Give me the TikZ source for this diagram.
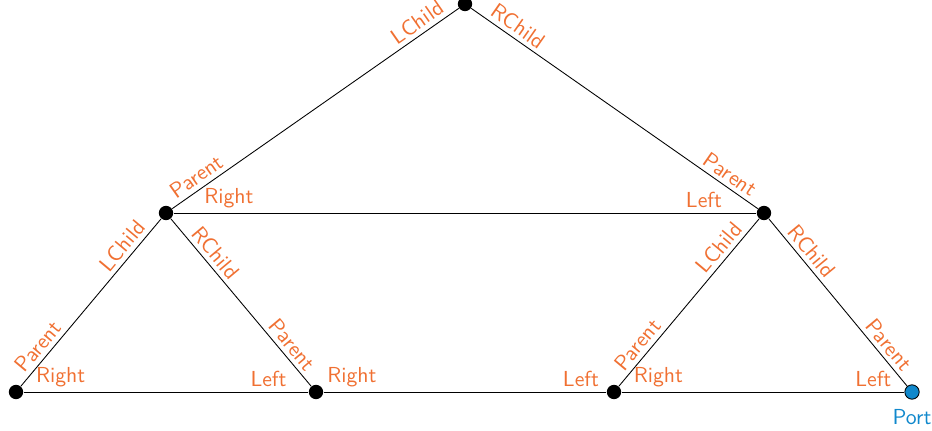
\documentclass[tikz,border=0pt]{standalone}
\usetikzlibrary{positioning}
\definecolor{labelorange}{RGB}{240,112,50}
\definecolor{portblue}{RGB}{16,136,204}
\begin{document}
\begin{tikzpicture}[
  x=0.46pt, y=-0.46pt,
  agent/.style={circle, fill=black, inner sep=0pt, minimum size=6.6pt},
  port/.style={circle, draw=black, fill=portblue, inner sep=0pt, minimum size=6.6pt},
  lbl/.style={sloped, above, inner sep=2pt, text=labelorange},
  font=\sffamily
]
\useasboundingbox (0,0) rectangle (932,431);

\node[agent] (root) at (465,4) {};
\node[agent] (left) at (166,213) {};
\node[agent] (right) at (764,213) {};
\node[agent] (ll) at (16,392) {};
\node[agent] (lr) at (316,392) {};
\node[agent] (rl) at (614,392) {};
\node[port] (free) at (912,392) {};
\node[below=1pt of free, text=portblue] (portlbl) {Port};

% Edges
\draw (root) -- (left) node[lbl, pos=0.12] {LChild} node[lbl, pos=0.89] {Parent};
\draw (root) -- (right) node[lbl, pos=0.14] {RChild} node[lbl, pos=0.88] {Parent};
\draw (left) -- (right) node[lbl, pos=0.095] {Right} node[lbl, pos=0.91] {Left};
\draw (left) -- (ll) node[lbl, pos=0.21] {LChild} node[lbl, pos=0.81] {Parent};
\draw (left) -- (lr) node[lbl, pos=0.25] {RChild} node[lbl, pos=0.80] {Parent};
\draw (right) -- (rl) node[lbl, pos=0.22] {LChild} node[lbl, pos=0.80] {Parent};
\draw (right) -- (free) node[lbl, pos=0.24] {RChild} node[lbl, pos=0.80] {Parent};

% Bottom row
\draw (ll) -- (lr) node[lbl, pos=0.13] {Right} node[lbl, pos=0.86] {Left};
\draw (lr) -- (rl) node[lbl, pos=0.10] {Right} node[lbl, pos=0.91] {Left};
\draw (rl) -- (free) node[lbl, pos=0.13] {Right} node[lbl, pos=0.89] {Left};

\end{tikzpicture}
\end{document}
